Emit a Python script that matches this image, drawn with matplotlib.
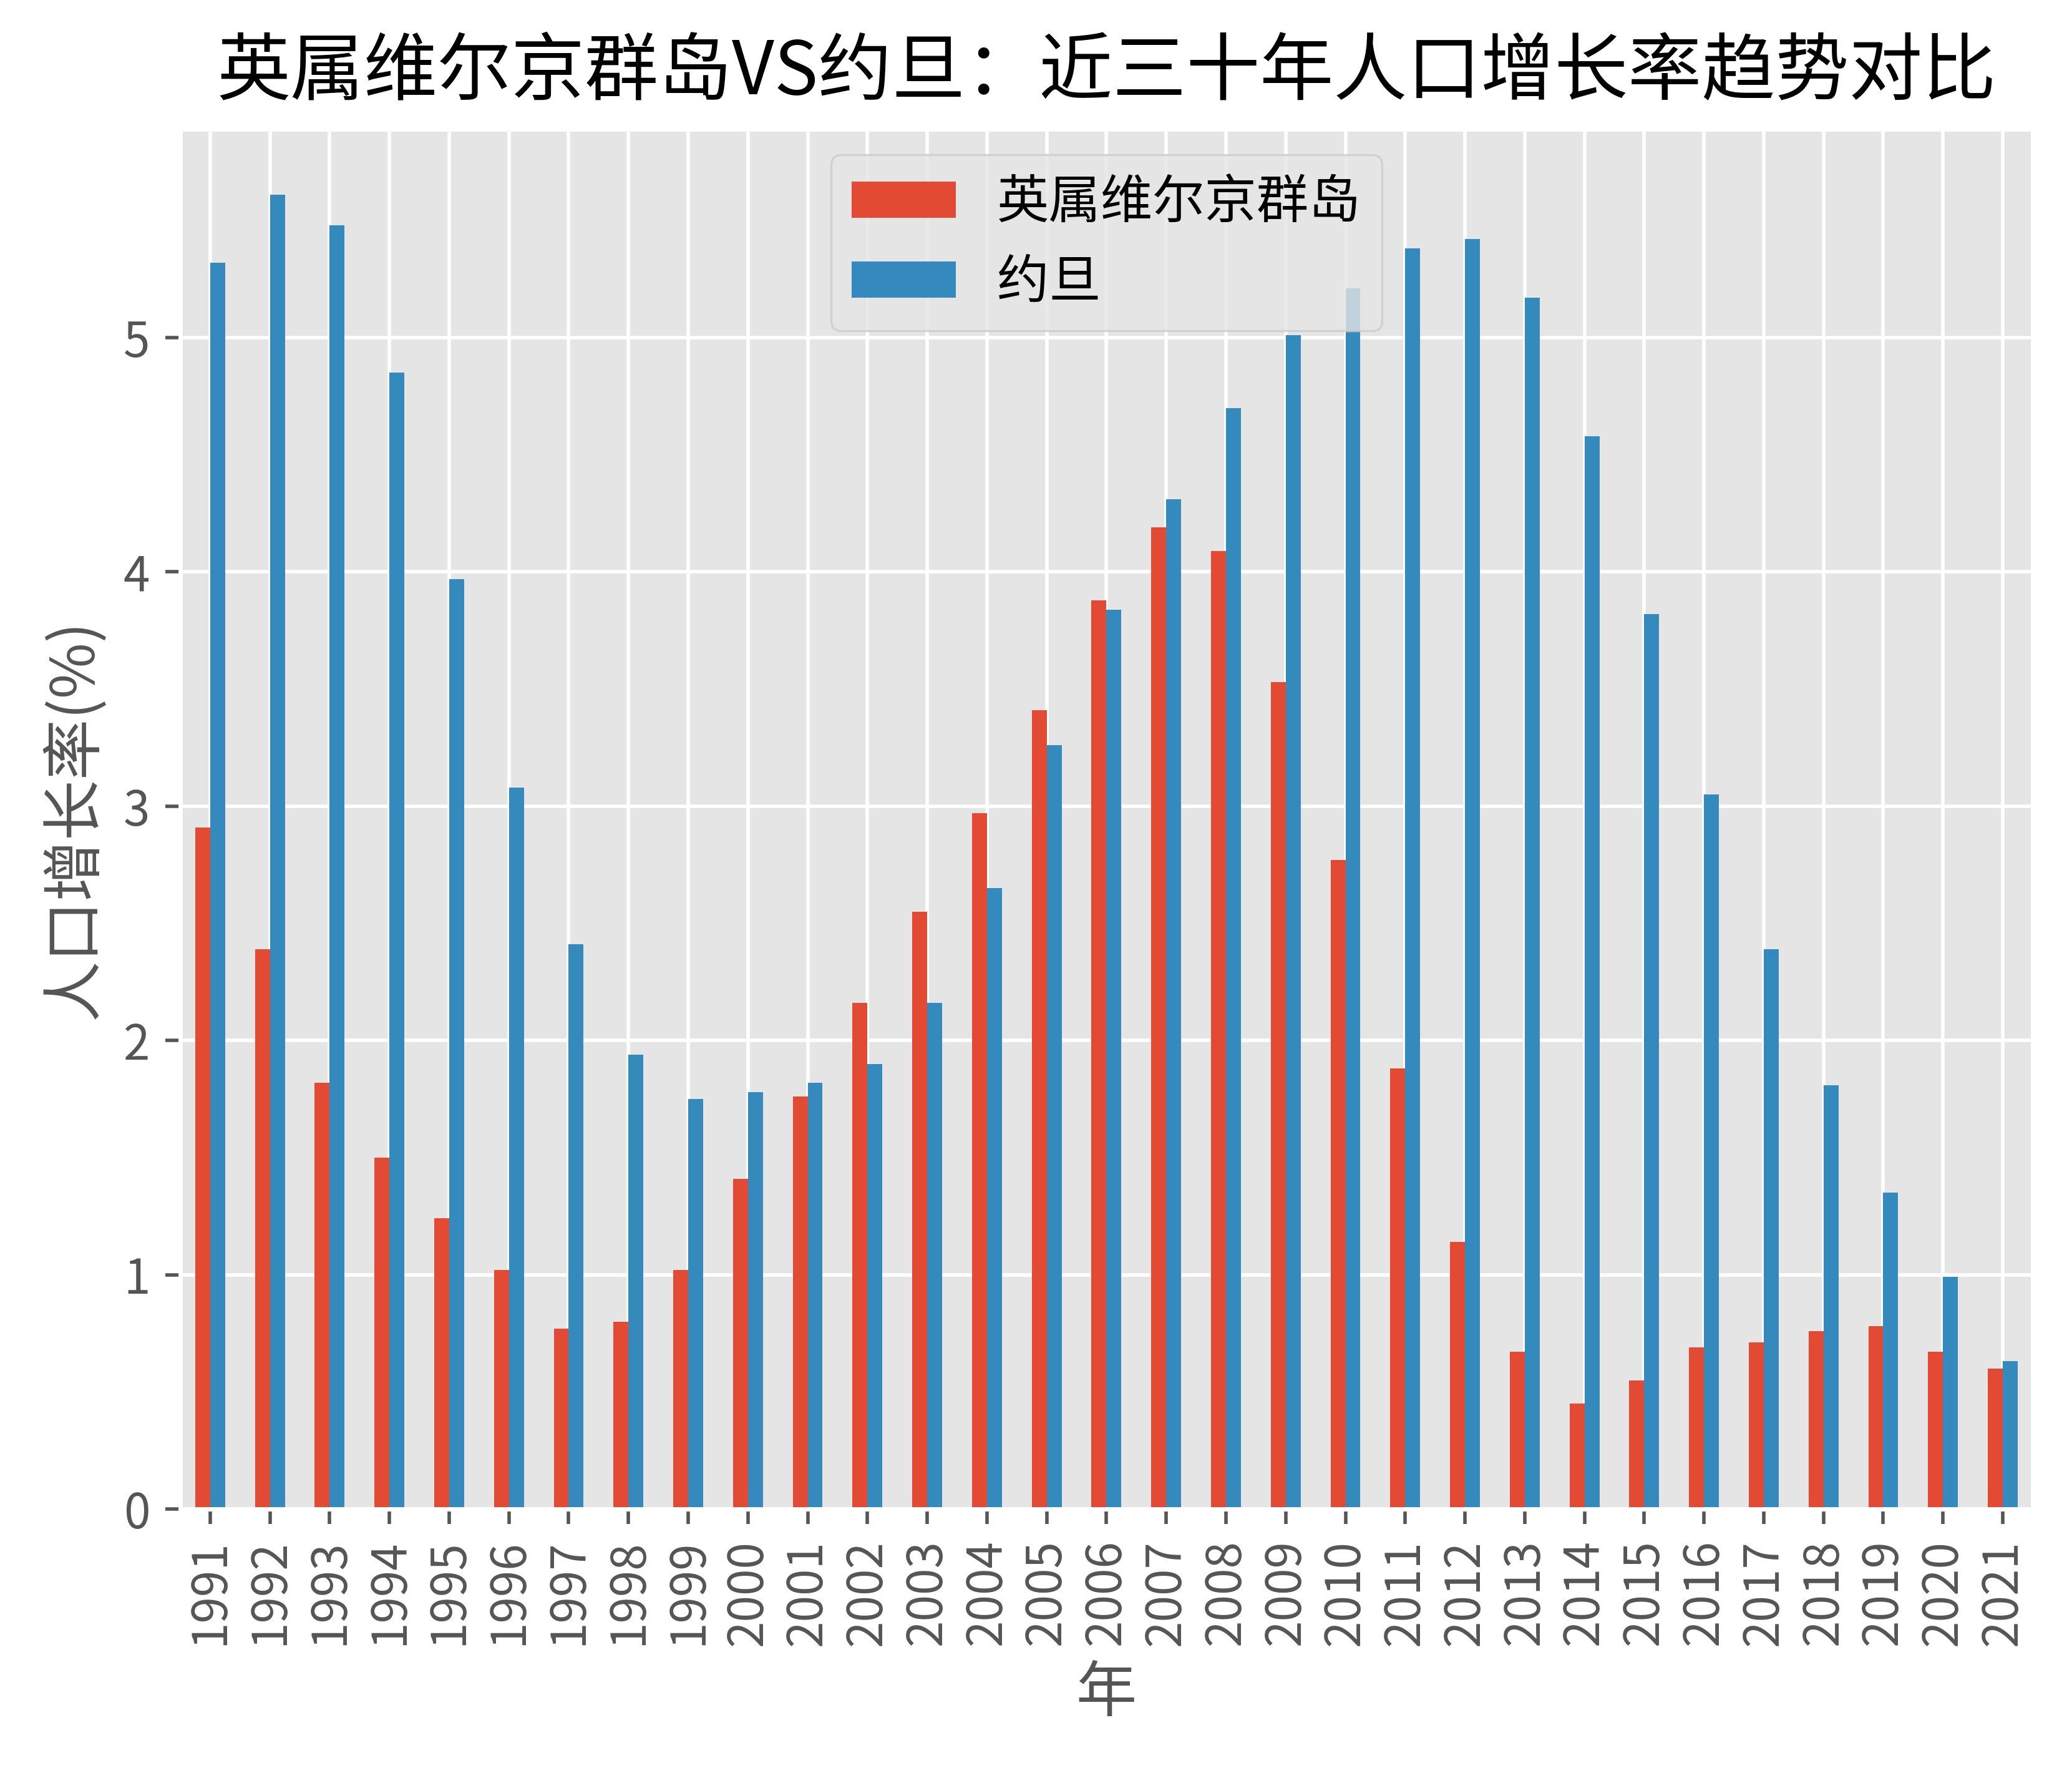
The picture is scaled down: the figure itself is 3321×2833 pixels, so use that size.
import numpy as np
import pandas as pd
from matplotlib import pyplot as plt

plt.style.use('ggplot')
plt.rcParams['font.family'] = ['Noto Sans CJK SC', 'DejaVu Sans']
plt.rcParams['axes.unicode_minus'] = False

years = list(range(1991, 2022))
bvi = [2.91, 2.39, 1.82, 1.50, 1.24, 1.02, 0.77, 0.80, 1.02, 1.41,
       1.76, 2.16, 2.55, 2.97, 3.41, 3.88, 4.19, 4.09, 3.53, 2.77,
       1.88, 1.14, 0.67, 0.45, 0.55, 0.69, 0.71, 0.76, 0.78, 0.67, 0.60]
jordan = [5.32, 5.61, 5.48, 4.85, 3.97, 3.08, 2.41, 1.94, 1.75, 1.78,
          1.82, 1.90, 2.16, 2.65, 3.26, 3.84, 4.31, 4.70, 5.01, 5.21,
          5.38, 5.42, 5.17, 4.58, 3.82, 3.05, 2.39, 1.81, 1.35, 0.99, 0.63]

df = pd.DataFrame({'英属维尔京群岛': bvi, '约旦': jordan}, index=years)

fig = plt.figure(figsize=(6.642, 5.666), dpi=500)
ax = fig.add_axes([0.087, 0.1465, 0.894, 0.7805])
df.plot(kind='bar', ax=ax)

ax.set_title('英属维尔京群岛VS约旦：近三十年人口增长率趋势对比', fontsize=17, pad=8)
ax.set_xlabel('年', fontsize=14)
ax.set_ylabel('人口增长率(%)', fontsize=14)
ax.tick_params(axis='both', labelsize=11)
ax.legend(loc='upper center', fontsize=12)

fig.savefig('out.png', dpi=500)
